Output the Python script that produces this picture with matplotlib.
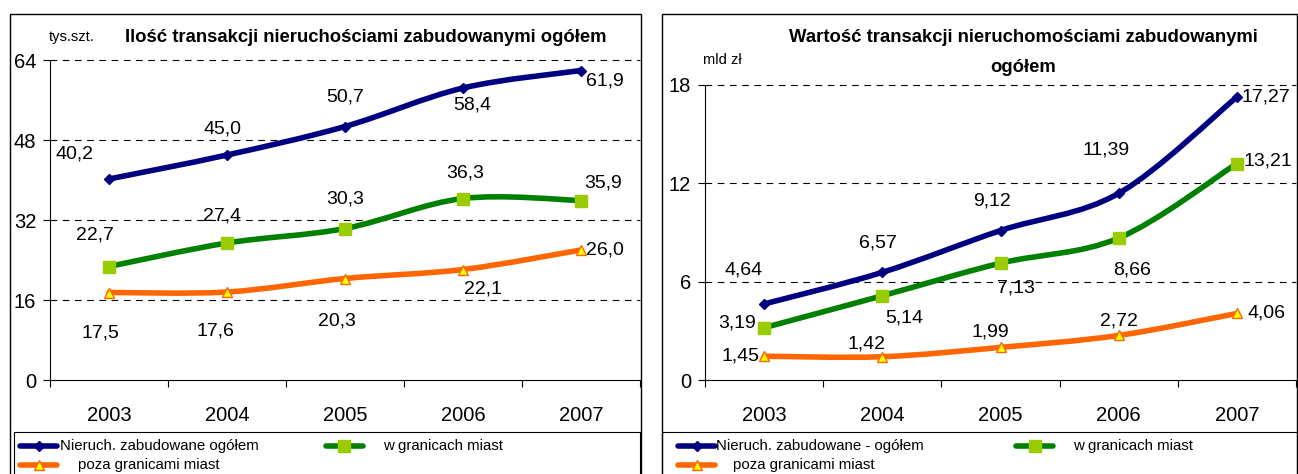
import numpy as np
import matplotlib
matplotlib.use("Agg")
import matplotlib.pyplot as plt
from matplotlib.path import Path
from matplotlib.patches import PathPatch, Rectangle
from matplotlib.lines import Line2D

plt.rcParams['font.family'] = ['Liberation Sans', 'DejaVu Sans']

years = ['2003', '2004', '2005', '2006', '2007']

# Left chart: number of transactions (thousands)
cnt_total = [40.2, 45.0, 50.7, 58.4, 61.9]
cnt_city = [22.7, 27.4, 30.3, 36.3, 35.9]
cnt_outside = [17.5, 17.6, 20.3, 22.1, 26.0]
cnt_labels_total = ['40,2', '45,0', '50,7', '58,4', '61,9']
cnt_labels_city = ['22,7', '27,4', '30,3', '36,3', '35,9']
cnt_labels_outside = ['17,5', '17,6', '20,3', '22,1', '26,0']

# Right chart: value of transactions (bln PLN)
val_total = [4.64, 6.57, 9.12, 11.39, 17.27]
val_city = [3.19, 5.14, 7.13, 8.66, 13.21]
val_outside = [1.45, 1.42, 1.99, 2.72, 4.06]
val_labels_total = ['4,64', '6,57', '9,12', '11,39', '17,27']
val_labels_city = ['3,19', '5,14', '7,13', '8,66', '13,21']
val_labels_outside = ['1,45', '1,42', '1,99', '2,72', '4,06']

W, H = 1298, 474
fig = plt.figure(figsize=(W / 100, H / 100), dpi=100)
fig.patch.set_facecolor('white')

def fx(px):
    return px / W

def fy(py):
    return 1 - py / H

NAVY = '#000080'
GREEN = '#008000'
LGREEN = '#99CC00'
ORANGE = '#FF6600'
YELLOW = '#FFFF00'
LW = 4.0

def smooth_path(ax, xs, ys, color, lw):
    pts = np.column_stack([xs, ys]).astype(float)
    n = len(pts)
    verts = [pts[0]]
    codes = [Path.MOVETO]
    for i in range(n - 1):
        p0 = pts[i - 1] if i > 0 else pts[i]
        p1 = pts[i]
        p2 = pts[i + 1]
        p3 = pts[i + 2] if i + 2 < n else pts[i + 1]
        c1 = p1 + (p2 - p0) / 6.0
        c2 = p2 - (p3 - p1) / 6.0
        verts += [c1, c2, p2]
        codes += [Path.CURVE4] * 3
    patch = PathPatch(Path(verts, codes), facecolor='none', edgecolor=color,
                      lw=lw, capstyle='round', joinstyle='round', zorder=3)
    ax.add_patch(patch)

def setup_axes(rect, ymax, ystep):
    ax = fig.add_axes(rect)
    ax.set_xlim(0.5, 5.5)
    ax.set_ylim(0, ymax)
    for s in ['top', 'right']:
        ax.spines[s].set_visible(False)
    ax.spines['left'].set_linewidth(0.8)
    ax.spines['bottom'].set_linewidth(0.8)
    ax.set_xticks(np.arange(0.5, 6.0, 1.0))
    ax.set_xticklabels([])
    ax.set_xticks(np.arange(1, 6), minor=True)
    ax.set_xticklabels(years, minor=True, fontsize=14.5)
    ax.tick_params(axis='x', which='major', direction='out', length=5, width=0.8)
    ax.tick_params(axis='x', which='minor', length=0, pad=19)
    yt = np.arange(0, ymax + 0.001, ystep)
    ax.set_yticks(yt)
    ax.set_yticklabels([f'{int(v)}' for v in yt], fontsize=14.5)
    ax.tick_params(axis='y', direction='out', length=5, width=0.8, pad=5)
    for v in yt[1:]:
        ax.axhline(v, color='black', lw=0.8, ls=(0, (6, 5)), zorder=1, clip_on=False)
    return ax

def draw_series(ax, ys, color, mface, medge, marker, ms, labels, offsets):
    xs = np.arange(1, 6)
    smooth_path(ax, xs, ys, color, LW)
    ax.plot(xs, ys, ls='none', marker=marker, ms=ms, mfc=mface, mec=medge,
            mew=1.0, zorder=4, clip_on=False)
    for x, y, lab, off in zip(xs, ys, labels, offsets):
        ax.annotate(lab, (x, y), xytext=off, textcoords='offset pixels',
                    ha='center', va='center', fontsize=14, zorder=5)

# Panel frames
fig.add_artist(Rectangle((fx(10), fy(500)), fx(641 - 10), fy(14) - fy(500),
                         transform=fig.transFigure, fill=False, ec='black', lw=1.0))
fig.add_artist(Rectangle((fx(662), fy(500)), fx(1297 - 662), fy(14) - fy(500),
                         transform=fig.transFigure, fill=False, ec='black', lw=1.0))
# Legend frames
fig.add_artist(Rectangle((fx(14), fy(500)), fx(640 - 14), fy(432) - fy(500),
                         transform=fig.transFigure, fill=False, ec='black', lw=0.8))
fig.add_artist(Rectangle((fx(662), fy(500)), fx(1297 - 662), fy(432) - fy(500),
                         transform=fig.transFigure, fill=False, ec='black', lw=0.8))

# Left chart
axL = setup_axes([fx(50), fy(380), fx(590), fy(60) - fy(380)], 64, 16)
draw_series(axL, cnt_total, NAVY, NAVY, NAVY, 'D', 5.5, cnt_labels_total,
            [(-35, 25), (-5, 26), (0, 30), (9, -17), (24, -10)])
draw_series(axL, cnt_city, GREEN, LGREEN, LGREEN, 's', 8, cnt_labels_city,
            [(-14, 31), (-5, 27), (0, 30), (2, 26), (22, 18)])
draw_series(axL, cnt_outside, ORANGE, YELLOW, ORANGE, '^', 7.5, cnt_labels_outside,
            [(-9, -41), (-12, -39), (-8, -42), (20, -20), (24, 0)])
fig.text(fx(72), fy(37), 'tys.szt.', fontsize=10.5, ha='center', va='center')
fig.text(fx(366), fy(37), 'Ilość transakcji nieruchościami zabudowanymi ogółem',
         fontsize=13.3, fontweight='bold', ha='center', va='center')

# Right chart
axR = setup_axes([fx(705), fy(380), fx(591), fy(85) - fy(380)], 18, 6)
draw_series(axR, val_total, NAVY, NAVY, NAVY, 'D', 5.5, val_labels_total,
            [(-21, 34), (-4, 29), (-8, 30), (-13, 43), (29, 0)])
draw_series(axR, val_city, GREEN, LGREEN, LGREEN, 's', 8, val_labels_city,
            [(-27, 5), (22, -22), (15, -25), (13, -32), (31, 3)])
draw_series(axR, val_outside, ORANGE, YELLOW, ORANGE, '^', 7.5, val_labels_outside,
            [(-24, 0), (-16, 13), (-10, 15), (0, 14), (30, 0)])
fig.text(fx(722), fy(60), 'mld zł', fontsize=10.5, ha='center', va='center')
fig.text(fx(1023), fy(37), 'Wartość transakcji nieruchomościami zabudowanymi',
         fontsize=13.3, fontweight='bold', ha='center', va='center')
fig.text(fx(1023), fy(68), 'ogółem',
         fontsize=13.3, fontweight='bold', ha='center', va='center')

# Legends
def legend_item(x0, y, color, marker, mface, medge, ms, text, tx):
    fig.add_artist(Line2D([fx(x0), fx(x0 + 37)], [fy(y), fy(y)], transform=fig.transFigure,
                          color=color, lw=LW, solid_capstyle='round'))
    fig.add_artist(Line2D([fx(x0 + 18.5)], [fy(y)], transform=fig.transFigure,
                          ls='none', marker=marker, ms=ms, mfc=mface, mec=medge, mew=1.0))
    fig.text(fx(tx), fy(y), text, fontsize=10.8, ha='left', va='center')

legend_item(20, 446, NAVY, 'D', NAVY, NAVY, 5.5, 'Nieruch. zabudowane ogółem', 60)
legend_item(326, 446, GREEN, 's', LGREEN, LGREEN, 8, 'w granicach miast', 383)
legend_item(20, 465, ORANGE, '^', YELLOW, ORANGE, 7.5, 'poza granicami miast', 78)

legend_item(678, 446, NAVY, 'D', NAVY, NAVY, 5.5, 'Nieruch. zabudowane - ogółem', 716)
legend_item(1016, 446, GREEN, 's', LGREEN, LGREEN, 8, 'w granicach miast', 1073)
legend_item(678, 465, ORANGE, '^', YELLOW, ORANGE, 7.5, 'poza granicami miast', 733)

fig.savefig('out.png', dpi=100)
